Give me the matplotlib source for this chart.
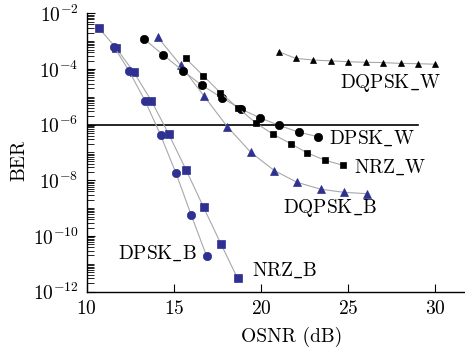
import numpy as np
import matplotlib
matplotlib.use("Agg")
import matplotlib.pyplot as plt
from matplotlib.ticker import LogLocator, NullFormatter

plt.rcParams['font.family'] = 'serif'
plt.rcParams['font.serif'] = ['cmr10']
plt.rcParams['mathtext.fontset'] = 'cm'
plt.rcParams['axes.formatter.use_mathtext'] = True

# OSNR (dB) and log10(BER)
nrz_b_x = [10.7, 11.7, 12.7, 13.7, 14.7, 15.7, 16.7, 17.7, 18.65]
nrz_b_y = [-2.54, -3.26, -4.12, -5.14, -6.34, -7.63, -8.97, -10.29, -11.52]

dpsk_b_x = [11.56, 12.42, 13.34, 14.23, 15.12, 15.98, 16.88]
dpsk_b_y = [-3.20, -4.07, -5.14, -6.37, -7.75, -9.23, -10.73]

dqpsk_b_x = [14.07, 15.39, 16.72, 18.06, 19.40, 20.76, 22.06, 23.42, 24.74, 26.06]
dqpsk_b_y = [-2.86, -3.87, -4.97, -6.07, -6.99, -7.65, -8.07, -8.32, -8.43, -8.48]

dpsk_w_x = [13.28, 14.39, 15.50, 16.59, 17.74, 18.85, 19.95, 21.05, 22.17, 23.29]
dpsk_w_y = [-2.92, -3.50, -4.06, -4.58, -5.03, -5.44, -5.76, -6.03, -6.27, -6.44]

nrz_w_x = [15.67, 16.68, 17.66, 18.67, 19.68, 20.67, 21.69, 22.66, 23.68, 24.69]
nrz_w_y = [-3.62, -4.24, -4.85, -5.40, -5.93, -6.34, -6.68, -7.02, -7.28, -7.46]

dqpsk_w_x = [21, 22, 23, 24, 25, 26, 27, 28, 29, 30]
dqpsk_w_y = [-3.38, -3.62, -3.68, -3.71, -3.74, -3.76, -3.77, -3.80, -3.81, -3.83]

threshold = 1e-6

blue = '#2e3192'
line_c = '#a8a8a8'

fig = plt.figure(figsize=(4.65, 3.47), dpi=100)
ax = fig.add_axes([0.1867, 0.1594, 0.8133, 0.8023])

def curve(x, y, marker, color, ms):
    ax.plot(x, 10.0 ** np.array(y), color=line_c, lw=0.8, marker=marker,
            ms=ms, mfc=color, mec=color, mew=0.5, zorder=3)

curve(nrz_b_x, nrz_b_y, 's', blue, 5.2)
curve(dpsk_b_x, dpsk_b_y, 'o', blue, 6)
curve(dqpsk_b_x, dqpsk_b_y, '^', blue, 6)
curve(dpsk_w_x, dpsk_w_y, 'o', 'black', 6)
curve(nrz_w_x, nrz_w_y, 's', 'black', 5)
curve(dqpsk_w_x, dqpsk_w_y, '^', 'black', 5)

ax.plot([10, 29], [threshold, threshold], color='black', lw=1.2, zorder=2)

ax.set_yscale('log')
ax.set_xlim(10, 31.7)
ax.set_ylim(1e-12, 1e-2)
ax.set_xticks([10, 15, 20, 25, 30])
ax.set_yticks([1e-2, 1e-4, 1e-6, 1e-8, 1e-10, 1e-12])
ax.yaxis.set_minor_locator(LogLocator(base=10, subs=np.arange(1, 10), numticks=100))
ax.yaxis.set_minor_formatter(NullFormatter())

for s in ['top', 'right']:
    ax.spines[s].set_visible(False)
ax.spines['left'].set_linewidth(1.0)
ax.spines['bottom'].set_linewidth(1.0)
ax.tick_params(axis='both', which='major', direction='in', length=6, width=0.8,
               labelsize=14, pad=6)
ax.tick_params(axis='y', which='minor', direction='in', length=5, width=0.6)

ax.set_xlabel('OSNR (dB)', fontsize=14)
ax.set_ylabel('BER', fontsize=14)
ax.xaxis.set_label_coords(0.542, -0.125)
ax.yaxis.set_label_coords(-0.155, 0.47)

kw = dict(fontsize=14, va='center', ha='left')
ax.text(24.53, 10 ** -4.50, r'$\mathrm{DQPSK\_W}$', **kw)
ax.text(23.9, 10 ** -6.50, r'$\mathrm{DPSK\_W}$', **kw)
ax.text(25.33, 10 ** -7.52, r'$\mathrm{NRZ\_W}$', **kw)
ax.text(21.26, 10 ** -8.98, r'$\mathrm{DQPSK\_B}$', **kw)
ax.text(19.46, 10 ** -11.24, r'$\mathrm{NRZ\_B}$', **kw)
ax.text(11.79, 10 ** -10.63, r'$\mathrm{DPSK\_B}$', **kw)

fig.savefig('out.png', dpi=100)
